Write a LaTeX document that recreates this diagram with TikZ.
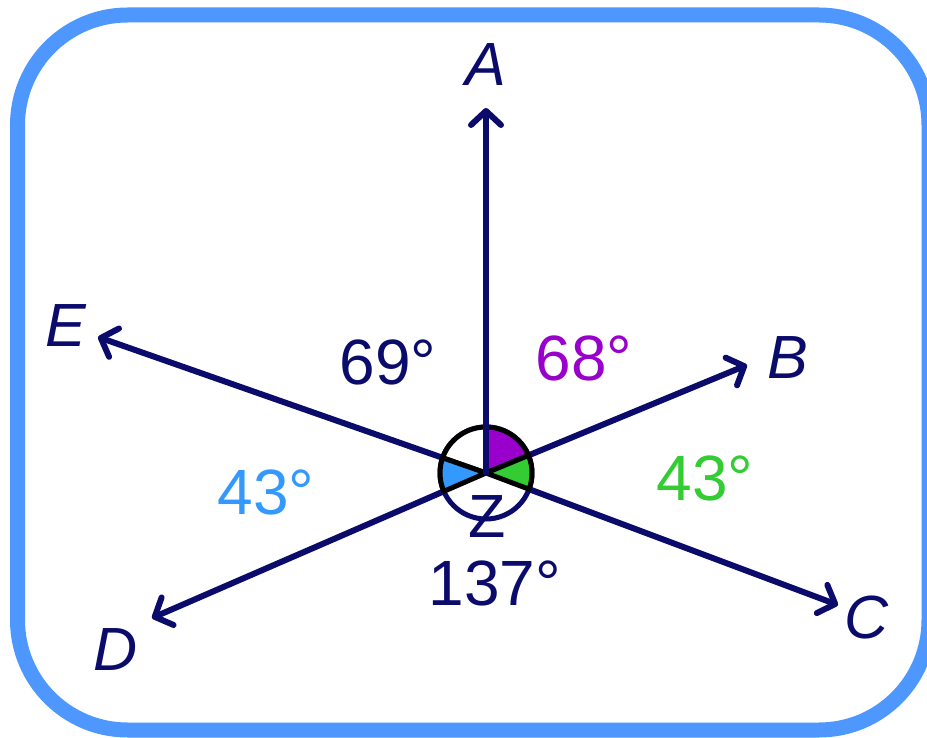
\documentclass[tikz,border=0pt]{standalone}
\usepackage{fontspec}
\setmainfont{Liberation Sans}
\usetikzlibrary{arrows.meta}
\definecolor{navy}{HTML}{0B0B6C}
\definecolor{pur}{HTML}{9900CC}
\definecolor{grn}{HTML}{33CC33}
\definecolor{blu}{HTML}{3399FF}
\definecolor{frm}{HTML}{4D97FF}
\begin{document}
\begin{tikzpicture}[x=1pt,y=-1pt,
  ray/.style={navy,line width=6pt,line cap=round,-{Straight Barb[length=14pt,width=30pt,line cap=round,line join=round]}},
  pt/.style={navy,font=\fontsize{61}{61}\selectfont\itshape,inner sep=0pt},
  num/.style={font=\fontsize{64}{64}\selectfont,inner sep=0pt},
  sect/.style={draw=black,line width=5pt,line join=round}]
\useasboundingbox (0,0) rectangle (927,738);
\begin{scope}
\clip (0,0) rectangle (927,738);
\draw[frm,line width=15pt,rounded corners=110pt] (17.5,15) rectangle (929,730);
\end{scope}
\coordinate (Z) at (486,473);
\coordinate (tA) at (486,108);
\coordinate (tB) at (747,365);
\coordinate (tC) at (838,605);
\coordinate (tD) at (152,618);
\coordinate (tE) at (98,337);
% rays
\draw[ray] (Z) -- (tB);
\draw[ray] (Z) -- (tC);
\draw[ray] (Z) -- (tD);
\draw[ray] (Z) -- (tE);
% circle and sectors
\begin{scope}[shift={(Z)},yscale=-1]
\fill[white] (0,0) circle[radius=46];
\draw[navy,line width=5pt] (0,0) circle[radius=46];
\draw[sect,fill=white] (0,0) -- (90:46) arc[start angle=90,end angle=160.7,radius=46] -- cycle;
\draw[sect,fill=pur] (0,0) -- (22.5:46) arc[start angle=22.5,end angle=90,radius=46] -- cycle;
\draw[sect,fill=grn] (0,0) -- (-20.6:46) arc[start angle=-20.6,end angle=22.5,radius=46] -- cycle;
\draw[sect,fill=blu] (0,0) -- (160.7:46) arc[start angle=160.7,end angle=203.5,radius=46] -- cycle;
\end{scope}
\draw[ray] (Z) -- (tA);
% labels
\node[pt] (A) at (486,65) {A};
\node[pt] (B) at (788,358) {B};
\node[pt] (C) at (867,617) {C};
\node[pt] (D) at (116,650) {D};
\node[pt] (E) at (66,326) {E};
\node[navy,font=\fontsize{61}{61}\selectfont,inner sep=0pt] (Zl) at (487,517) {Z};
\node[num,navy] (n69) at (388,362) {69°};
\node[num,pur] (n68) at (584,358) {68°};
\node[num,grn] (n43r) at (705,478) {43°};
\node[num,blu] (n43l) at (266,492) {43°};
\node[num,navy] (n137) at (495,583) {137°};
\end{tikzpicture}
\end{document}
